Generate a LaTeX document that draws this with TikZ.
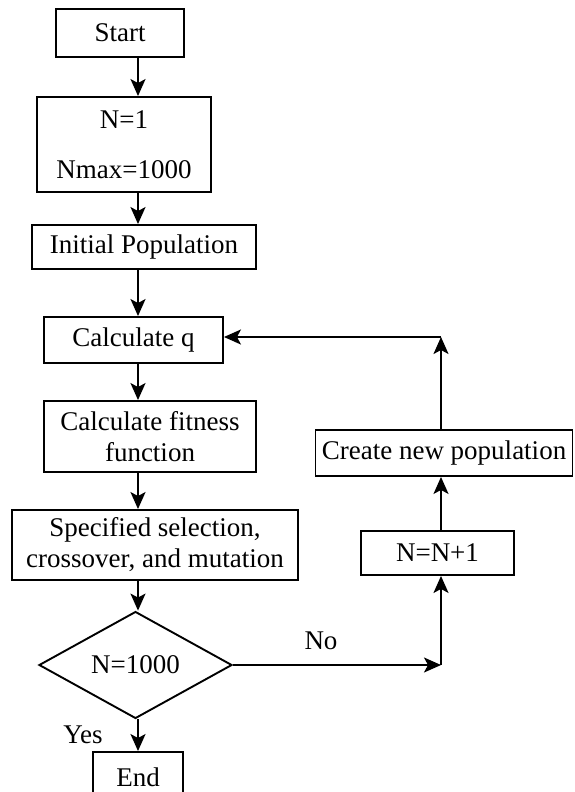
\documentclass[tikz,border=0pt]{standalone}
\usepackage{fontspec}
\setmainfont{Liberation Serif}
\usetikzlibrary{shapes.geometric,arrows.meta}
\begin{document}
\begin{tikzpicture}[x=1pt,y=-1pt,
  txt/.style={font=\fontsize{27}{31}\selectfont},
  box/.style={txt,draw,line width=1.9pt,inner sep=0pt,align=center,fill=white},
  dia/.style={txt,draw,diamond,line width=1.9pt,inner sep=0pt,fill=white},
  arr/.style={line width=1.9pt,-{Stealth[length=17pt,width=15pt,inset=4pt]}},
  lbl/.style={txt,inner sep=0pt}]
\useasboundingbox[fill=white] (0,0) rectangle (574,792);
\coordinate (ax) at (138,0);
\coordinate (rx) at (441,0);
\node[box,minimum width=128pt,minimum height=48pt] (start) at (120,33) {Start};
\node[box,minimum width=174pt,minimum height=95pt] (init) at (124,144.5) {N=1\\[19pt]Nmax=1000};
\node[box,minimum width=224pt,minimum height=44pt] (pop) at (144,247) {Initial Population};
\node[box,minimum width=179pt,minimum height=46pt] (calcq) at (133.5,340) {Calculate q};
\node[box,minimum width=212pt,minimum height=71pt] (fit) at (150,436.5) {Calculate fitness\\function};
\node[box,minimum width=286pt,minimum height=70pt] (sel) at (155,545) {Specified selection,\\crossover, and mutation};
\node[dia,minimum width=193pt,minimum height=94pt] (dec) at (135.5,665) {N=1000};
\node[box,minimum width=90pt,minimum height=50pt] (end) at (138,777) {End};
\node[box,minimum width=257pt,minimum height=46pt] (newpop) at (444,453) {Create new population};
\node[box,minimum width=153pt,minimum height=44pt] (nn1) at (437.5,553) {N=N+1};
\node[lbl] (yes) at (83,735) {Yes};
\node[lbl] (no) at (321,641) {No};
\coordinate (c1) at (441,665);
\coordinate (c2) at (441,337);
\draw[arr] (start.south -| ax) -- (init.north -| ax);
\draw[arr] (init.south -| ax) -- (pop.north -| ax);
\draw[arr] (pop.south -| ax) -- (calcq.north -| ax);
\draw[arr] (calcq.south -| ax) -- (fit.north -| ax);
\draw[arr] (fit.south -| ax) -- (sel.north -| ax);
\draw[arr] (sel.south -| ax) -- (dec.north -| ax);
\draw[arr] (dec.south -| ax) -- (end.north -| ax);
\draw[arr] (dec.east) -- (c1);
\draw[arr] (c1) -- (nn1.south -| c1);
\draw[arr] (nn1.north -| c1) -- (newpop.south -| c1);
\draw[arr] (newpop.north -| c1) -- (c2);
\draw[arr] (c2) -- (calcq.east |- c2);
\end{tikzpicture}
\end{document}
